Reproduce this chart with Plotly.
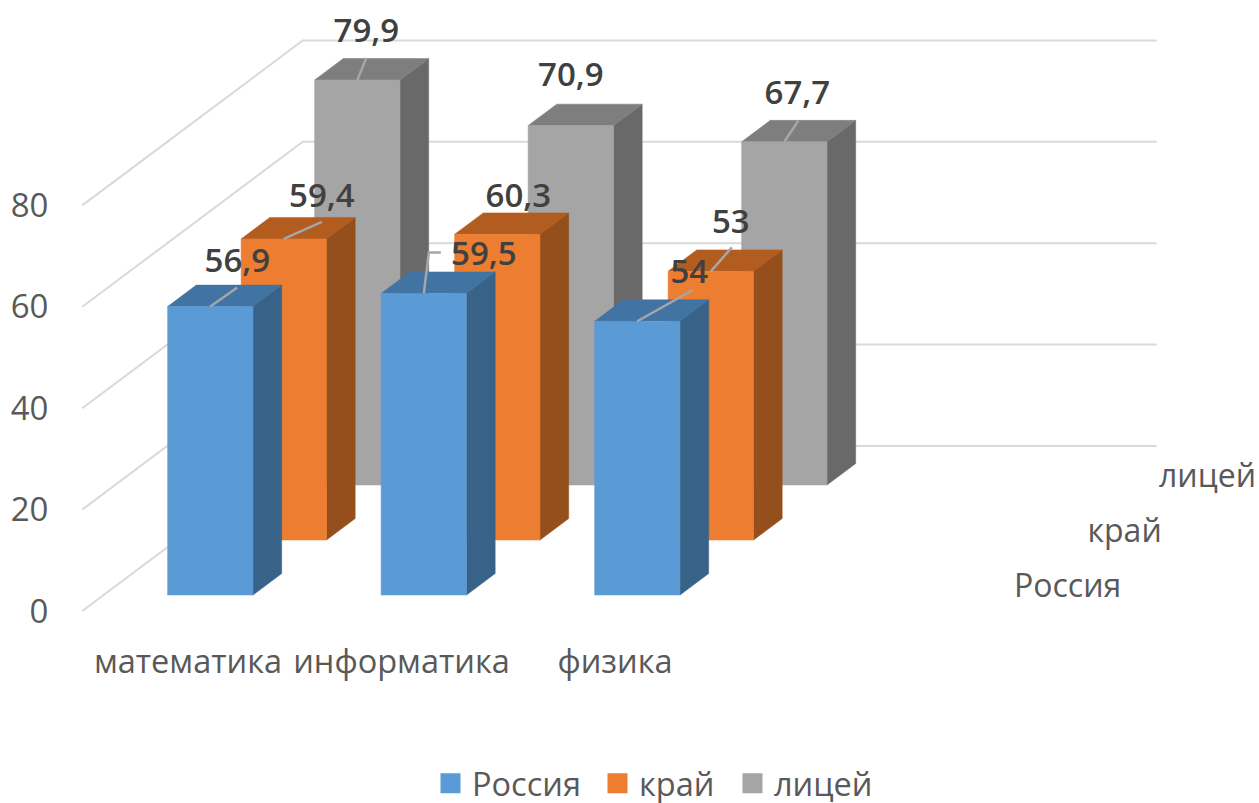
import plotly.graph_objects as go

# ---- data ----
categories = ["математика", "информатика", "физика"]
series_names = ["Россия", "край", "лицей"]
russia = [56.9, 59.5, 54]
krai = [59.4, 60.3, 53]
lyceum = [79.9, 70.9, 67.7]
value_ticks = [0, 20, 40, 60, 80]

# ---- styling ----
FRONT = ["#5B9BD5", "#ED7D31", "#A5A5A5"]
TOP = ["#4274A3", "#B35C20", "#7E7E7E"]
SIDE = ["#386287", "#954F1C", "#696969"]
GRID = "#D9D9D9"
TEXT = "#595959"
LABEL = "#404040"
FONT = "Open Sans"

# oblique projection, in axis units
PX_X = 213.5            # pixels per category
PX_Y = 5.07             # pixels per value unit
STEP_X = 73.5 / PX_X    # shift of one series row in depth
STEP_Y = 55 / PX_Y
BAR_HALF = 0.2
BAR_DEPTH = 0.39
ROW_GAP = 0.29


def px(dx, dy):
    return dx / PX_X, -dy / PX_Y


def project(x, y, depth):
    return x + depth * STEP_X, y + depth * STEP_Y


values = [russia, krai, lyceum]
fig = go.Figure()

# walls: side wall then back wall grid lines
gx, gy = [], []
for v in value_ticks:
    for xx, d in ((-0.5, 0), (-0.5, 3), (3.5, 3)):
        a, b = project(xx, v, d)
        gx.append(a)
        gy.append(b)
    gx.append(None)
    gy.append(None)
fig.add_trace(go.Scatter(x=gx, y=gy, mode="lines", line=dict(color=GRID, width=2),
                         showlegend=False, hoverinfo="skip"))


def polys(s, face):
    xs, ys = [], []
    d0 = s + ROW_GAP
    d1 = d0 + BAR_DEPTH
    for c, v in enumerate(values[s]):
        l, r = c - BAR_HALF, c + BAR_HALF
        if face == "side":
            pts = [(r, 0, d0), (r, 0, d1), (r, v, d1), (r, v, d0)]
        elif face == "top":
            pts = [(l, v, d0), (l, v, d1), (r, v, d1), (r, v, d0)]
        else:
            pts = [(l, 0, d0), (r, 0, d0), (r, v, d0), (l, v, d0)]
        for p in pts + pts[:1]:
            a, b = project(*p)
            xs.append(a)
            ys.append(b)
        xs.append(None)
        ys.append(None)
    return xs, ys


for s in (2, 1, 0):
    for face, col in (("side", SIDE[s]), ("top", TOP[s]), ("front", FRONT[s])):
        xs, ys = polys(s, face)
        fig.add_trace(go.Scatter(x=xs, y=ys, mode="lines", fill="toself", fillcolor=col,
                                 line=dict(color=col, width=0.5), showlegend=False,
                                 hoverinfo="skip"))

# leader lines and labels: pixel offsets from the middle of a bar's top front edge
label_offsets = [
    [(27, -43), (60, -37), (52, -47)],
    [(38, -40), (21, -36), (20, -47)],
    [(9, -46), (0, -48), (13, -46)],
]
leader_offsets = [
    [[(27, -19)], [(5, -41), (17, -41)], [(55, -31)]],
    [[(38, -17)], [], [(21, -24)]],
    [[(9, -22)], [], [(14, -21)]],
]
lx, ly, tx, ty, tt = [], [], [], [], []
for s in (2, 1, 0):
    for c, v in enumerate(values[s]):
        ax, ay = project(c, v, s + ROW_GAP)
        if leader_offsets[s][c]:
            lx.append(ax)
            ly.append(ay)
            for off in leader_offsets[s][c]:
                ox, oy = px(*off)
                lx.append(ax + ox)
                ly.append(ay + oy)
            lx.append(None)
            ly.append(None)
        ox, oy = px(*label_offsets[s][c])
        tx.append(ax + ox)
        ty.append(ay + oy)
        tt.append(str(v).replace(".", ","))
fig.add_trace(go.Scatter(x=lx, y=ly, mode="lines", line=dict(color="#A6A6A6", width=2.5),
                         showlegend=False, hoverinfo="skip"))
fig.add_trace(go.Scatter(x=tx, y=ty, mode="text", text=tt, textposition="middle center",
                         textfont=dict(family=FONT, size=33, color=LABEL, weight=600),
                         showlegend=False, hoverinfo="skip", cliponaxis=False))

# depth axis labels
depth_label_dx = [41, 41, 39]
dx, dy = [], []
for s in range(3):
    a, b = project(3.5, 0, s + 0.5)
    ox, oy = px(depth_label_dx[s], 5)
    dx.append(a + ox)
    dy.append(b + oy)
fig.add_trace(go.Scatter(x=dx, y=dy, mode="text", text=series_names,
                         textposition="middle right",
                         textfont=dict(family=FONT, size=32, color=TEXT),
                         showlegend=False, hoverinfo="skip", cliponaxis=False))

# legend keys, one legend per entry so the gaps between them can be set
legend_ids = ["legend", "legend2", "legend3"]
legend_left_px = [429, 596, 731]
for s in range(3):
    fig.add_trace(go.Scatter(x=[None], y=[None], mode="markers", name=series_names[s],
                             legend=legend_ids[s],
                             marker=dict(symbol="square", size=16, color=FRONT[s],
                                         line=dict(color=FRONT[s], width=4))))

LEFT, FLOOR_PX, BOTTOM_PX, ORIGIN_PX = 62, 611, 632, 188
W, H = 1259, 803
legend_style = {
    lid: dict(orientation="h", xref="container", x=left / W, xanchor="left",
              yref="container", y=0.024, yanchor="middle",
              font=dict(family=FONT, size=32.5, color=TEXT), itemwidth=33,
              bgcolor="rgba(0,0,0,0)")
    for lid, left in zip(legend_ids, legend_left_px)
}
bar_shift = (189 - ORIGIN_PX) / PX_X
for tr in fig.data:
    if tr.x is not None and tr.x[0] is not None:
        tr.x = [None if q is None else q + bar_shift for q in tr.x]
fig.update_layout(
    width=W, height=H, autosize=False,
    margin=dict(l=LEFT, r=0, t=0, b=H - BOTTOM_PX, pad=0),
    paper_bgcolor="white", plot_bgcolor="white",
    showlegend=True,
    xaxis=dict(range=[(LEFT - ORIGIN_PX) / PX_X, (W - ORIGIN_PX) / PX_X],
               tickmode="array", tickvals=list(range(len(categories))), ticktext=categories,
               showgrid=False, zeroline=False, showline=False,
               ticks="outside", ticklen=1, tickcolor="rgba(0,0,0,0)",
               tickfont=dict(family=FONT, size=32.5, color=TEXT), tickangle=0),
    yaxis=dict(range=[(FLOOR_PX - BOTTOM_PX) / PX_Y, FLOOR_PX / PX_Y],
               tickmode="array", tickvals=value_ticks, ticktext=[str(v) for v in value_ticks],
               showgrid=False, zeroline=False, showline=False,
               ticks="outside", ticklen=6, tickcolor="rgba(0,0,0,0)",
               tickfont=dict(family=FONT, size=33, color=TEXT)),
    **legend_style,
)
fig.write_html("out.html", config=dict(displayModeBar=False),
               post_script="document.body.style.margin='0';"
                           "document.documentElement.style.overflow='hidden';")
